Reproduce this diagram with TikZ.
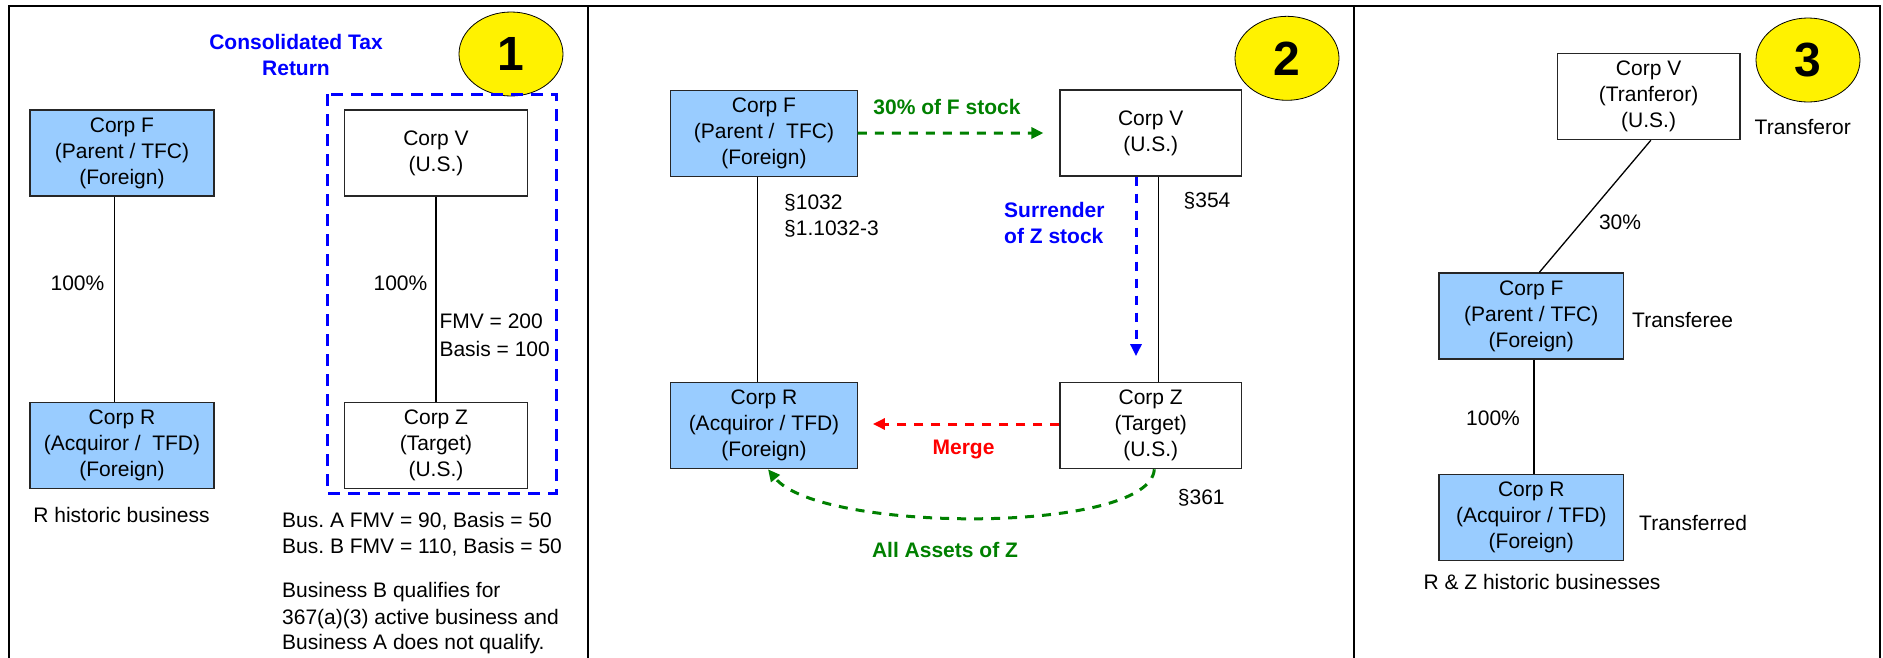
\documentclass[tikz,border=0pt]{standalone}
\usepackage{fontspec}
\setmainfont{Liberation Sans}
\usetikzlibrary{arrows.meta,shapes.geometric}
\frenchspacing

\definecolor{corpblue}{HTML}{99CCFF}
\definecolor{taxgreen}{HTML}{008000}
\newcommand{\corpfont}{\fontsize{21}{26}\selectfont}

\tikzset{
  corp/.style={draw=black!85, line width=1.2pt, minimum width=184pt, minimum height=86pt, align=center, inner sep=0pt},
  foreign/.style={corp, fill=corpblue},
  stepnum/.style={ellipse, draw, line width=0.8pt, fill=yellow, minimum width=104pt, minimum height=84pt, inner sep=0pt, font=\fontsize{48}{48}\selectfont\bfseries},
  lbl/.style={inner sep=0pt, text height=15pt, text depth=0pt},
  link/.style={line width=1.3pt},
  flow/.style={line width=3pt, dash pattern=on 9pt off 8pt, -{Triangle[length=12pt,width=11pt]}},
}

\begin{document}
\begin{tikzpicture}[x=1pt, y=-1pt, font=\corpfont]
\useasboundingbox (0,0) rectangle (1883,657);

% frame and panels
\draw[line width=2pt] (8.5,5.5) rectangle (1880,680);
\draw[line width=2pt] (588,5.5) -- (588,680);
\draw[line width=2pt] (1354,5.5) -- (1354,680);

% panel 1
\node[stepnum] (c1) at (511,54) {1};
\node[foreign] (f1) at (122,153) {Corp F\\(Parent / TFC)\\(Foreign)};
\node[foreign] (r1) at (122,445.5) {Corp R\\(Acquiror / \ TFD)\\(Foreign)};
\node[corp, minimum width=183pt] (v1) at (436,153) {Corp V\\(U.S.)};
\node[corp, minimum width=183pt] (z1) at (436,445.5) {Corp Z\\(Target)\\(U.S.)};
\draw[blue, line width=3pt, dash pattern=on 12pt off 8pt] (327.6,94) rectangle (556,493.3);
\node[align=center, text=blue, font=\corpfont\bfseries] (cons) at (296,55) {Consolidated Tax\\Return};

\draw[link] ([xshift=-7.6]f1.south) -- ([xshift=-7.6]r1.north);
\draw[link] (v1.south) -- (z1.north);

\node[lbl, anchor=east] (own1) at (104.5,282.7) {100\%};
\node[lbl, anchor=east] (own2) at (427.5,282.7) {100\%};
\node[lbl, anchor=west] (fmv) at (439.3,320.7) {FMV = 200};
\node[lbl, anchor=west] (basis) at (439.3,349) {Basis = 100};
\node[lbl] (hist1) at (121.5,515) {R historic business};
\node[lbl, anchor=west] (busa) at (282,520) {Bus. A FMV = 90, Basis = 50};
\node[lbl, anchor=west] (busb) at (282,545.7) {Bus. B FMV = 110, Basis = 50};
\node[lbl, anchor=west] (qual1) at (282,590) {Business B qualifies for};
\node[lbl, anchor=west] (qual2) at (282,616.7) {367(a)(3) active business and};
\node[lbl, anchor=west] (qual3) at (282,642) {Business A does not qualify.};

% panel 2
\node[stepnum] (c2) at (1287,58.3) {2};
\node[foreign, minimum width=186.6pt] (f2) at (764,133.2) {Corp F\\(Parent / \ TFC)\\(Foreign)};
\node[corp, minimum width=181.3pt] (v2) at (1150.7,133) {Corp V\\(U.S.)};
\node[foreign, minimum width=186.6pt] (r2) at (764,425.7) {Corp R\\(Acquiror / TFD)\\(Foreign)};
\node[corp, minimum width=181.3pt] (z2) at (1150.7,425.7) {Corp Z\\(Target)\\(U.S.)};

\draw[link] ([xshift=-6.7]f2.south) -- ([xshift=-6.7]r2.north);
\draw[link] ([xshift=7.6]v2.south) -- ([xshift=7.6]z2.north);

\draw[flow, taxgreen, shorten >=16pt] (f2.east) -- (v2.west);
\draw[flow, blue, shorten >=26pt] ([xshift=-14.7]v2.south) -- ([xshift=-14.7]z2.north);
\draw[flow, red, shorten >=15pt] ([yshift=1.7]z2.west) -- ([yshift=1.7]r2.east);
\draw[flow, taxgreen] ([xshift=3.6]z2.south) .. controls +(-4,65) and +(52,64) .. ([xshift=4]r2.south);

\node[lbl, text=taxgreen, font=\corpfont\bfseries] (fstock) at (947,107) {30\% of F stock};
\node[lbl, anchor=west] (s1032) at (784,201.7) {§1032};
\node[lbl, anchor=west] (s1032r) at (784,228.3) {§1.1032-3};
\node[align=left, anchor=west, inner sep=0pt, text=blue, font=\corpfont\bfseries] (surr) at (1004,222.7) {Surrender\\of Z stock};
\node[lbl, anchor=west] (s354) at (1183.5,200) {§354};
\node[lbl, text=red, font=\corpfont\bfseries] (merge) at (963.5,447.3) {Merge};
\node[lbl, anchor=west] (s361) at (1177.7,496.7) {§361};
\node[lbl, text=taxgreen, font=\corpfont\bfseries] (assets) at (945,550) {All Assets of Z};

% panel 3
\node[stepnum] (c3) at (1808,60) {3};
\node[corp, minimum width=182.6pt] (v3) at (1648.6,96.7) {Corp V\\(Tranferor)\\(U.S.)};
\node[foreign, minimum width=184.6pt] (f3) at (1531.3,316) {Corp F\\(Parent / TFC)\\(Foreign)};
\node[foreign, minimum width=184.6pt] (r3) at (1531.3,517.5) {Corp R\\(Acquiror / TFD)\\(Foreign)};

\draw[link] ([xshift=2.2]v3.south) -- ([xshift=8]f3.north);
\draw[link] ([xshift=2.6]f3.south) -- ([xshift=2.6]r3.north);

\node[lbl, anchor=west] (tor) at (1754.5,126.7) {Transferor};
\node[lbl] (own3) at (1620,221.7) {30\%};
\node[lbl, anchor=west] (tee) at (1632,320) {Transferee};
\node[lbl] (own4) at (1493,418.3) {100\%};
\node[lbl, anchor=west] (tred) at (1639,522.7) {Transferred};
\node[lbl] (hist3) at (1542,581.7) {R \& Z historic businesses};

\end{tikzpicture}
\end{document}
